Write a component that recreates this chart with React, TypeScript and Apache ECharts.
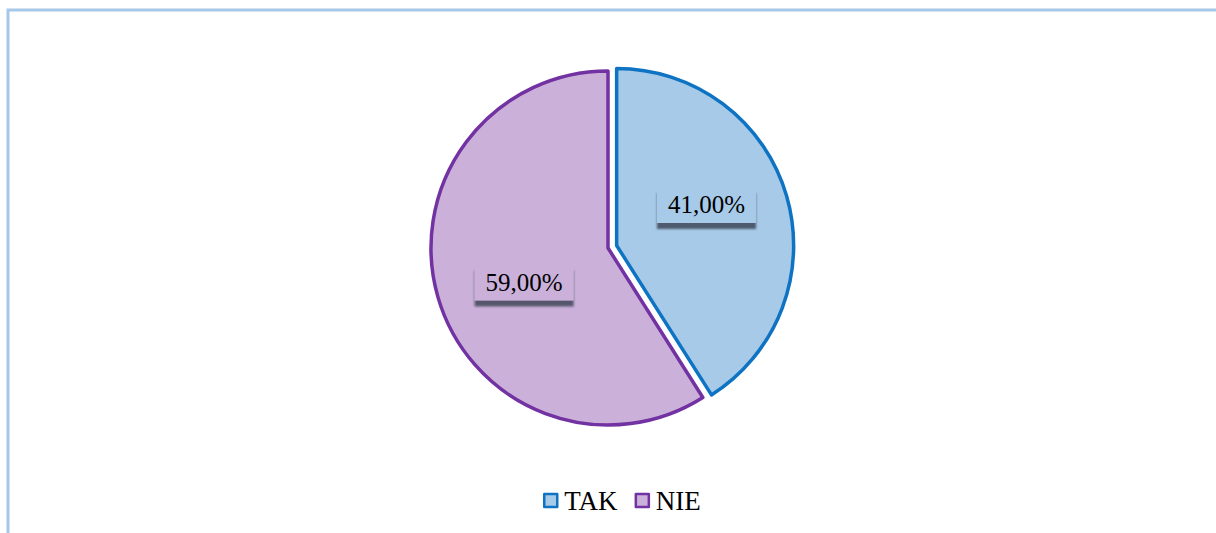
import React, { useEffect, useRef } from "react";
import * as echarts from "echarts";

const categories = ["TAK", "NIE"];
const values = [41, 59];
const fillColors = ["#A6CAE7", "#CBB1DA"];
const borderColors = ["#0E73C2", "#7232A2"];
const serif = "Liberation Serif";

export default function App() {
  const ref = useRef<HTMLDivElement>(null);
  useEffect(() => {
    document.body.style.margin = "0";
    const chart = echarts.init(ref.current!, null, { renderer: "svg" });
    const data = categories.map((name, i) => ({
      name,
      value: values[i],
      selected: i === 0,
      itemStyle: { color: fillColors[i], borderColor: borderColors[i], borderWidth: 3.5 },
      select: { itemStyle: { color: fillColors[i], borderColor: borderColors[i], borderWidth: 3.5 } },
      label: {
        backgroundColor: fillColors[i],
      },
    }));
    chart.setOption({
      animation: false,
      backgroundColor: "#ffffff",
      graphic: [
        {
          type: "rect",
          shape: { x: 8, y: 10, width: 1400, height: 700 },
          style: { fill: "none", stroke: "#A5C8E8", lineWidth: 3 },
          silent: true,
        },
      ],
      legend: {
        left: 538,
        top: 482,
        itemWidth: 13,
        itemHeight: 13,
        itemGap: 17,
        icon: "rect",
        textStyle: {
          fontFamily: serif,
          fontSize: 27,
          lineHeight: 27,
          color: "#000",
          padding: [0, 0, 0, 2],
        },
        data: categories.map((name, i) => ({
          name,
          itemStyle: { color: fillColors[i], borderColor: borderColors[i], borderWidth: 2.5 },
        })),
      },
      series: [
        {
          type: "pie",
          center: [608, 248],
          radius: 177,
          startAngle: 90,
          clockwise: true,
          selectedMode: "single",
          selectedOffset: 9,
          emphasis: { disabled: true },
          label: {
            show: true,
            position: "inside",
            formatter: (p: any) => p.value.toFixed(2).replace(".", ",") + "%",
            fontFamily: serif,
            fontSize: 25,
            color: "#000",
            padding: [6, 11, 5, 11],
            shadowColor: "rgba(55,65,80,0.8)",
            shadowOffsetY: 6,
            shadowBlur: 2,
          },
          labelLayout: (params: any) =>
            params.dataIndex === 0 ? { dx: 2, dy: -15 } : { dx: 4, dy: 9 },
          labelLine: { show: false },
          data,
        },
      ],
    });
    return () => chart.dispose();
  }, []);
  return <div ref={ref} style={{ width: 1216, height: 533 }} />;
}
